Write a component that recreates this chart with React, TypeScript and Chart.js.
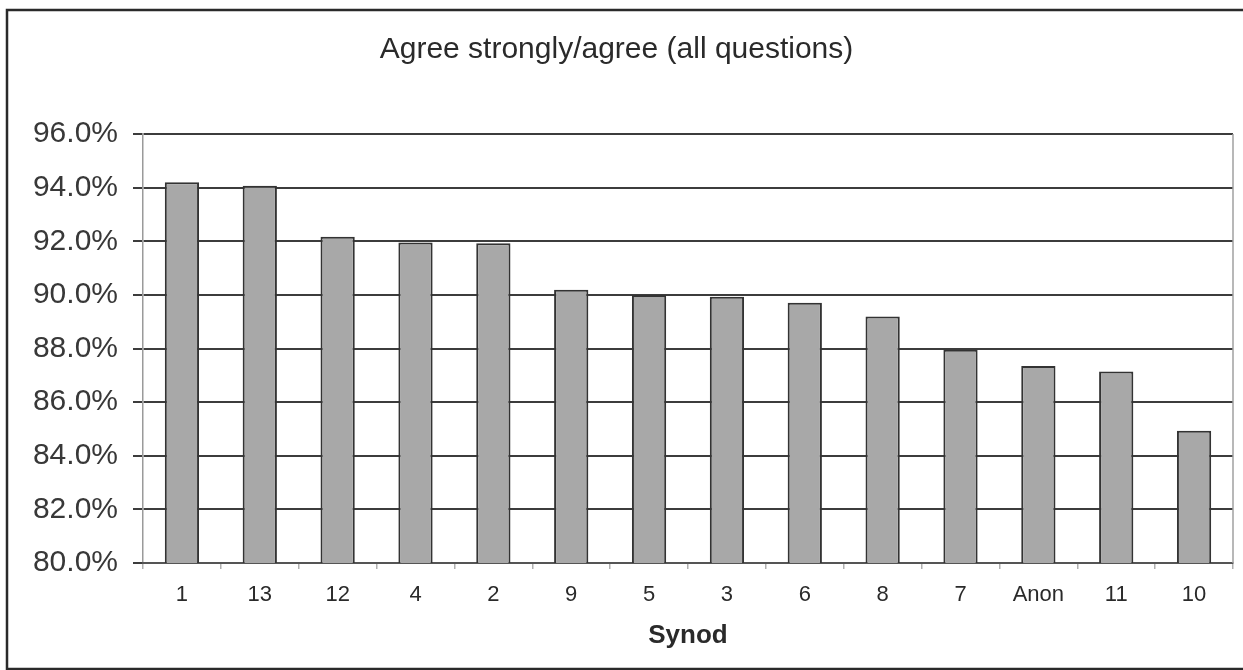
import React, { useEffect, useRef } from "react";
import { Chart, registerables } from "chart.js";

Chart.register(...registerables);

const categories = ["1", "13", "12", "4", "2", "9", "5", "3", "6", "8", "7", "Anon", "11", "10"];
const agreeValues = [94.2, 94.07, 92.17, 91.95, 91.93, 90.19, 90.0, 89.93, 89.71, 89.19, 87.95, 87.35, 87.14, 84.93];
const yMin = 80;
const yMax = 96;
const yStep = 2;
const chartTitle = "Agree strongly/agree (all questions)";
const xTitle = "Synod";

const FONT = "Liberation Sans, Arial, sans-serif";

const framePlugin = {
  id: "frame",
  beforeDraw(chart: any) {
    const { ctx, width, height } = chart;
    ctx.save();
    ctx.fillStyle = "#ffffff";
    ctx.fillRect(0, 0, width, height);
    ctx.strokeStyle = "#2a2a2a";
    ctx.lineWidth = 2.5;
    ctx.strokeRect(7, 10, width + 10, height - 11);
    ctx.restore();
  },
  beforeDatasetsDraw(chart: any) {
    const { ctx, chartArea } = chart;
    ctx.save();
    ctx.strokeStyle = "#a0a0a0";
    ctx.lineWidth = 1.5;
    ctx.beginPath();
    ctx.moveTo(chartArea.right, chartArea.top);
    ctx.lineTo(chartArea.right, chartArea.bottom);
    ctx.stroke();
    ctx.restore();
  },
};

export default function App() {
  const ref = useRef<HTMLCanvasElement>(null);
  useEffect(() => {
    if (!ref.current) return;
    const chart = new Chart(ref.current, {
      type: "bar",
      data: {
        labels: categories,
        datasets: [
          {
            data: agreeValues,
            backgroundColor: "#a8a8a8",
            borderColor: "#333333",
            borderWidth: 2,
            barPercentage: 0.44,
            categoryPercentage: 1,
          },
        ],
      },
      options: {
        animation: false,
        responsive: false,
        devicePixelRatio: 1,
        layout: { padding: { left: 0, right: 10, top: 10, bottom: 0 } },
        plugins: {
          legend: { display: false },
          tooltip: { enabled: false },
          title: {
            display: true,
            text: chartTitle,
            color: "#2a2a2a",
            font: { family: FONT, size: 30, weight: "normal" },
            padding: { top: 22, bottom: 66 },
          },
        },
        scales: {
          y: {
            min: yMin,
            max: yMax,
            ticks: {
              stepSize: yStep,
              padding: 15,
              color: "#383838",
              font: { family: FONT, size: 30 },
              callback: (v: any) => Number(v).toFixed(1) + "%",
            },
            grid: { color: "#3c3c3c", lineWidth: 2, tickLength: 10 },
            border: { display: true, color: "#9a9a9a", width: 1.5 },
            afterFit: (scale: any) => {
              scale.width = 143;
            },
          },
          x: {
            ticks: {
              color: "#2a2a2a",
              padding: 13,
              font: { family: FONT, size: 22 },
            },
            grid: { drawOnChartArea: false, drawTicks: true, tickLength: 6, color: "#b0b0b0", lineWidth: 1.5 },
            border: { display: true, color: "#555555", width: 2 },
            title: {
              display: true,
              text: xTitle,
              color: "#2a2a2a",
              font: { family: FONT, size: 26, weight: "bold" },
              padding: { top: 0, bottom: 19 },
            },
            afterFit: (scale: any) => {
              scale.height = 107;
            },
          },
        },
      },
      plugins: [framePlugin],
    });
    return () => chart.destroy();
  }, []);
  return (
    <div style={{ position: "fixed", left: 0, top: 0, width: 1243, height: 670 }}>
      <canvas ref={ref} width={1243} height={670} style={{ display: "block" }} />
    </div>
  );
}
